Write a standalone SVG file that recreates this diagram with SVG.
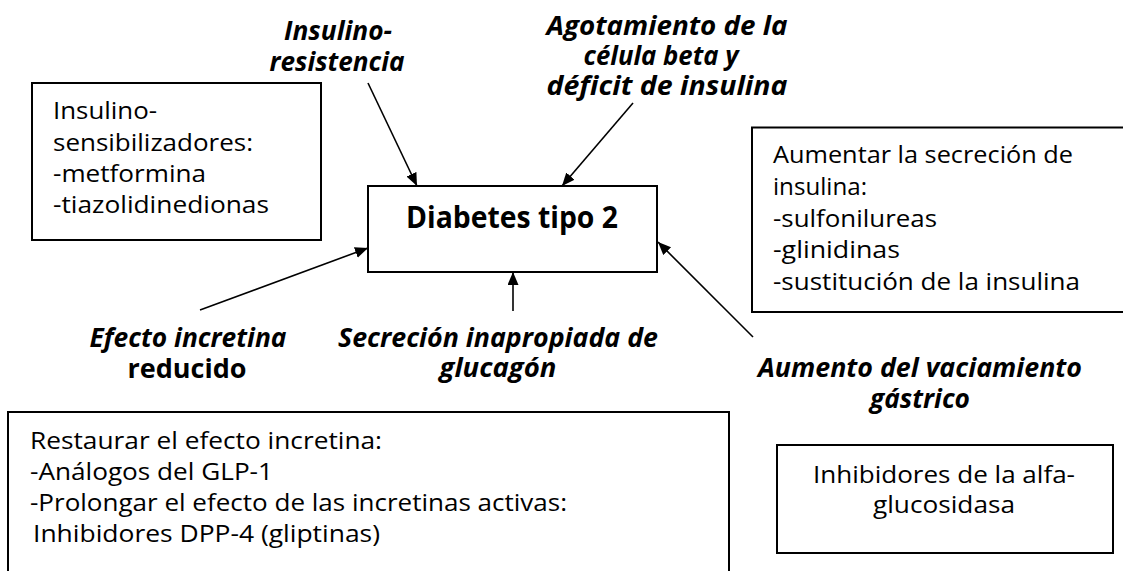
<svg xmlns="http://www.w3.org/2000/svg" width="1123" height="571" viewBox="0 0 1123 571">
<defs>
<marker id="ah" markerUnits="userSpaceOnUse" markerWidth="14" markerHeight="12" refX="13" refY="5.5" orient="auto">
<path d="M0,0 L13,5.5 L0,11 z" fill="#000"/>
</marker>
<style>
text{lengthAdjust:spacingAndGlyphs}
.box{fill:#fff;stroke:#000;stroke-width:2}
.t{font-family:"Open Sans","Noto Sans","Liberation Sans",sans-serif;font-size:24px;fill:#000}
.c{text-anchor:middle}
.lb{font-family:"Open Sans","Noto Sans","Liberation Sans",sans-serif;font-size:27px;font-weight:bold;font-style:italic;fill:#000;text-anchor:middle}
.lbu{font-family:"Open Sans","Noto Sans","Liberation Sans",sans-serif;font-size:27px;font-weight:bold;fill:#000;text-anchor:middle}
.main{font-family:"Open Sans","Noto Sans","Liberation Sans",sans-serif;font-size:31px;font-weight:bold;fill:#000;text-anchor:middle}
.con{stroke:#000;stroke-width:1.6;fill:none;marker-end:url(#ah)}
</style>
</defs>
<rect width="1123" height="571" fill="#fff"/>

<g id="sensibilizadores">
<rect class="box" x="32" y="83" width="289" height="157"/>
<text class="t" x="53" y="119" textLength="104" lengthAdjust="spacingAndGlyphs">Insulino-</text>
<text class="t" x="53" y="151" textLength="200" lengthAdjust="spacingAndGlyphs">sensibilizadores:</text>
<text class="t" x="53" y="182" textLength="153" lengthAdjust="spacingAndGlyphs">-metformina</text>
<text class="t" x="53" y="213" textLength="216" lengthAdjust="spacingAndGlyphs">-tiazolidinedionas</text>
</g>

<g id="secrecion-insulina">
<rect class="box" x="752" y="127.5" width="380" height="184.5"/>
<text class="t" x="773" y="163" textLength="300" lengthAdjust="spacingAndGlyphs">Aumentar la secreción de</text>
<text class="t" x="773" y="195" textLength="94" lengthAdjust="spacingAndGlyphs">insulina:</text>
<text class="t" x="773" y="227" textLength="164" lengthAdjust="spacingAndGlyphs">-sulfonilureas</text>
<text class="t" x="773" y="258" textLength="127" lengthAdjust="spacingAndGlyphs">-glinidinas</text>
<text class="t" x="773" y="290" textLength="307" lengthAdjust="spacingAndGlyphs">-sustitución de la insulina</text>
</g>

<g id="diabetes">
<rect class="box" x="368" y="186" width="289" height="86"/>
<text class="main" x="512" y="228" textLength="212" lengthAdjust="spacingAndGlyphs">Diabetes tipo 2</text>
</g>

<g id="incretina-box">
<rect class="box" x="8" y="412" width="721" height="170"/>
<text class="t" x="30" y="449" textLength="352" lengthAdjust="spacingAndGlyphs">Restaurar el efecto incretina:</text>
<text class="t" x="30" y="480" textLength="243" lengthAdjust="spacingAndGlyphs">-Análogos del GLP-1</text>
<text class="t" x="30" y="511" textLength="537" lengthAdjust="spacingAndGlyphs">-Prolongar el efecto de las incretinas activas:</text>
<text class="t" x="33" y="542" textLength="347" lengthAdjust="spacingAndGlyphs">Inhibidores DPP-4 (gliptinas)</text>
</g>

<g id="alfa-glucosidasa">
<rect class="box" x="777" y="445" width="336" height="108"/>
<text class="t c" x="944" y="483" textLength="262" lengthAdjust="spacingAndGlyphs">Inhibidores de la alfa-</text>
<text class="t c" x="944" y="513" textLength="142" lengthAdjust="spacingAndGlyphs">glucosidasa</text>
</g>

<g id="insulinoresistencia">
<text class="lb" x="338" y="40" textLength="108" lengthAdjust="spacingAndGlyphs">Insulino-</text>
<text class="lb" x="337" y="71" textLength="135" lengthAdjust="spacingAndGlyphs">resistencia</text>
</g>

<g id="agotamiento">
<text class="lb" x="667" y="35" textLength="241" lengthAdjust="spacingAndGlyphs">Agotamiento de la</text>
<text class="lb" x="661" y="65" textLength="155" lengthAdjust="spacingAndGlyphs">célula beta y</text>
<text class="lb" x="667" y="95" textLength="241" lengthAdjust="spacingAndGlyphs">déficit de insulina</text>
</g>

<g id="efecto-incretina">
<text class="lb" x="188" y="347" textLength="197" lengthAdjust="spacingAndGlyphs">Efecto incretina</text>
<text class="lbu" x="187" y="378" textLength="119" lengthAdjust="spacingAndGlyphs">reducido</text>
</g>

<g id="glucagon">
<text class="lb" x="498" y="347" textLength="320" lengthAdjust="spacingAndGlyphs">Secreción inapropiada de</text>
<text class="lb" x="498" y="377" textLength="117" lengthAdjust="spacingAndGlyphs">glucagón</text>
</g>

<g id="vaciamiento">
<text class="lb" x="920" y="377" textLength="324" lengthAdjust="spacingAndGlyphs">Aumento del vaciamiento</text>
<text class="lb" x="920" y="408" textLength="100" lengthAdjust="spacingAndGlyphs">gástrico</text>
</g>

<g id="connectors">
<line class="con" x1="368" y1="83" x2="417" y2="186"/>
<line class="con" x1="633" y1="103" x2="562" y2="186"/>
<line class="con" x1="200" y1="310" x2="368" y2="248"/>
<line class="con" x1="513" y1="311" x2="513" y2="272"/>
<line class="con" x1="753" y1="337" x2="658" y2="242"/>
</g>
</svg>
